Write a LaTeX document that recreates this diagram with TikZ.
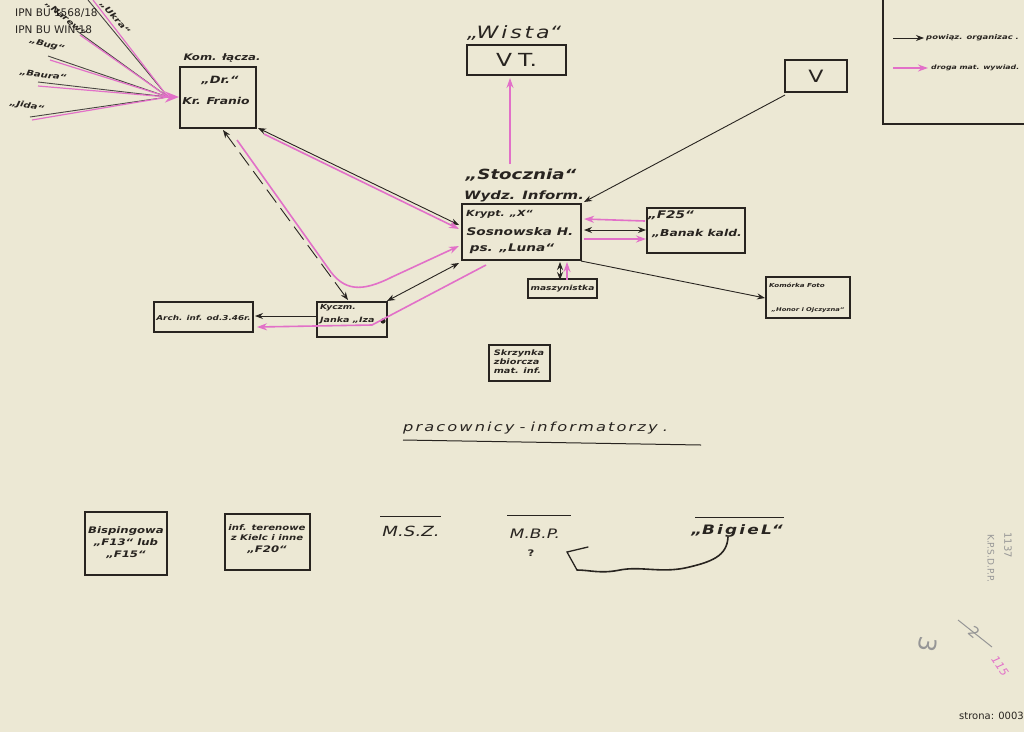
\documentclass[tikz,border=0pt]{standalone}
\usepackage{fontspec}
\setmainfont{DejaVu Sans}
\newfontfamily\hand{DejaVu Sans}[FakeStretch=1.3]
\usetikzlibrary{arrows.meta}
\definecolor{paper}{RGB}{236,232,212}
\definecolor{ink}{RGB}{40,36,32}
\definecolor{pinkink}{RGB}{226,112,200}
\definecolor{pencil}{RGB}{150,150,150}
\begin{document}
\begin{tikzpicture}[x=1pt,y=-1pt,
  box/.style={draw=ink,line width=1.3pt,inner sep=0pt},
  lbl/.style={text=ink,font=\hand\fontsize{9}{11}\selectfont\bfseries\itshape,inner sep=1pt,align=center},
  fanlbl/.style={text=ink,font=\hand\fontsize{7.8}{9}\selectfont\bfseries\itshape,inner sep=0.5pt},
  tiny/.style={text=ink,font=\hand\fontsize{6.5}{8}\selectfont\bfseries\itshape,inner sep=1pt,align=center},
  blk/.style={draw=ink,line width=0.9pt,-{Stealth[length=8pt,width=6pt]}},
  blkb/.style={draw=ink,line width=0.9pt,{Stealth[length=8pt,width=6pt]}-{Stealth[length=8pt,width=6pt]}},
  pnk/.style={draw=pinkink,line width=1.6pt,-{Stealth[length=10pt,width=7pt]}},
  fanl/.style={draw=ink!85,line width=0.9pt},
  fanp/.style={draw=pinkink,line width=1.2pt},
  pencilmark/.style={text=pencil,inner sep=0pt},
  wmark/.style={inner sep=0pt,text=ink,font=\fontsize{10.5}{11}\selectfont},
]
\fill[paper] (0,0) rectangle (1024,732);
\useasboundingbox (0,0) rectangle (1024,732);
\begin{scope}
\clip (0,0) rectangle (1024,732);

% ---- fan of lines into Kom
\coordinate (hub) at (168,97);
\coordinate (u1) at (88,0);
\coordinate (n1) at (77,31);
\coordinate (b1) at (48,56);
\coordinate (ba1) at (38,82);
\coordinate (j1) at (30,117);
\coordinate (u2) at (93,0);
\coordinate (n2) at (80,35);
\coordinate (b2) at (50,60);
\coordinate (ba2) at (38,86);
\coordinate (j2) at (32,120);
\draw[fanl] (u1) -- (hub);
\draw[fanl] (n1) -- (hub);
\draw[fanl] (b1) -- (hub);
\draw[fanl] (ba1) -- (hub);
\draw[fanl] (j1) -- (hub);
\draw[fanp] (u2) -- (hub);
\draw[fanp] (n2) -- (hub);
\draw[fanp] (b2) -- (hub);
\draw[fanp] (ba2) -- (hub);
\draw[fanp] (j2) -- (hub);
\coordinate (hubin) at (179,97);
\draw[pnk,line width=2pt,-{Stealth[length=14pt,width=11pt]}] (hub) -- (hubin);
\node[fanlbl,rotate=-48] (ukra) at (115,18) {„Ukra“};
\node[fanlbl,rotate=-40] (nemo) at (66,19) {„Narew“};
\node[fanlbl,rotate=-15] (bug) at (47,45) {„Bug“};
\node[fanlbl,rotate=-8] (baura) at (43,75) {„Baura“};
\node[fanlbl,rotate=-10] (jida) at (27,106) {„Jida“};

% ---- watermark
\node[wmark,anchor=west] (wm1) at (15,13) {IPN BU 1568/18};
\node[wmark,anchor=west] (wm2) at (15,30) {IPN BU WIN 18};
\node[wmark,anchor=east,font=\fontsize{10}{11}\selectfont] (strona) at (1024,716) {strona: 0003};

% ---- legend
\coordinate (lg1) at (883,0);
\coordinate (lg2) at (883,124);
\coordinate (lg3) at (1024,124);
\draw[ink,line width=1.2pt] (lg1) -- (lg2) -- (lg3);
\coordinate (la1) at (893,38); \coordinate (la2) at (924,38);
\coordinate (lb1) at (893,68); \coordinate (lb2) at (928,68);
\draw[blk,line width=0.8pt] (la1) -- (la2);
\draw[pnk,line width=1.4pt] (lb1) -- (lb2);
\node[tiny,anchor=west] (lgt1) at (925,38) {powiąz. organizac .};
\node[tiny,anchor=west,font=\hand\fontsize{6}{8}\selectfont\bfseries\itshape] (lgt2) at (930,68) {droga mat. wywiad.};

% ---- Kom box
\node[box,minimum width=76pt,minimum height=61pt] (kom) at (218,97.5) {};
\node[lbl] (komlab) at (222,58) {Kom. łącza.};
\node[lbl,font=\hand\fontsize{10}{11}\selectfont\bfseries\itshape] (dr) at (220,80) {„Dr.“};
\node[lbl,font=\hand\fontsize{9.5}{11}\selectfont\bfseries\itshape] (franio) at (216,101) {Kr. Franio};

% ---- Wisla / VT
\node[text=ink,inner sep=1pt,font=\hand\fontsize{17}{18}\selectfont\itshape] (wista) at (514,33) {„W\,i\,s\,t\,a“};
\node[box,minimum width=99pt,minimum height=30pt,font=\hand\fontsize{18}{20}\selectfont,text=ink] (vt) at (516.5,60) {V\,\,T.};

% ---- V
\node[box,minimum width=62pt,minimum height=32pt,font=\hand\fontsize{17}{18}\selectfont,text=ink] (v) at (816,76) {V};

% ---- centre
\node[lbl,font=\hand\fontsize{14}{15}\selectfont\bfseries\itshape] (stocz) at (521,175) {„Stocznia“};
\node[lbl,font=\hand\fontsize{11.5}{13}\selectfont\bfseries\itshape] (wydz) at (524,196) {Wydz. Inform.};
\node[box,minimum width=119pt,minimum height=56pt] (ctr) at (521.5,232) {};
\node[lbl,anchor=west,font=\hand\fontsize{8.5}{10}\selectfont\bfseries\itshape] (krypt) at (465,214) {Krypt. „X“};
\node[lbl,font=\hand\fontsize{10.5}{12}\selectfont\bfseries\itshape] (sosn) at (520,232) {Sosnowska H.};
\node[lbl,font=\hand\fontsize{10.5}{12}\selectfont\bfseries\itshape] (luna) at (512,249) {ps. „Luna“};

% ---- F25
\node[box,minimum width=98pt,minimum height=45pt] (f25) at (696,230.5) {};
\node[lbl,font=\hand\fontsize{10.5}{12}\selectfont\bfseries\itshape] (f25t) at (671,215) {„F25“};
\node[lbl,font=\hand\fontsize{9.5}{12}\selectfont\bfseries\itshape] (banak) at (697,233) {„Banak kald.};

% ---- maszynistka
\node[box,minimum width=69pt,minimum height=19pt] (masz) at (562.5,288.5) {};
\node[tiny,font=\hand\fontsize{7}{8}\selectfont\bfseries\itshape] (maszt) at (562.5,288.5) {maszynistka};

% ---- Komorka Foto
\node[box,minimum width=84pt,minimum height=41pt] (foto) at (808,297.5) {};
\node[tiny,font=\hand\fontsize{5.5}{7}\selectfont\bfseries\itshape] (fotot1) at (797,285) {Komórka Foto};
\node[tiny,font=\hand\fontsize{5.2}{7}\selectfont\bfseries\itshape] (fotot2) at (808,310) {„Honor i Ojczyzna“};

% ---- Skrzynka
\node[box,minimum width=61pt,minimum height=36pt] (skrz) at (519.5,363) {};
\node[tiny,align=left,font=\hand\fontsize{7.5}{9}\selectfont\bfseries\itshape] (skrzt) at (519,362) {Skrzynka\\zbiorcza\\mat. inf.};

% ---- Iza
\node[box,minimum width=70pt,minimum height=35pt] (iza) at (352,319.5) {};
\node[tiny,anchor=west,font=\hand\fontsize{7}{8}\selectfont\bfseries\itshape] (iza1) at (319,308) {Kyczm.};
\node[tiny,anchor=west,font=\hand\fontsize{7.3}{8}\selectfont\bfseries\itshape] (iza2) at (319,320) {Janka „Iza};
\fill[ink] (383,321) circle (2.6);

% ---- Arch
\node[box,minimum width=99pt,minimum height=30pt] (arch) at (203.5,317) {};
\node[tiny,font=\hand\fontsize{6.8}{9}\selectfont\bfseries\itshape] (archt) at (203.5,318) {Arch. inf. od.3.46r.};

% ---- connectors
\coordinate (wsrc) at (510,164);
\coordinate (wdst) at (510,78);
\draw[pnk] (wsrc) -- (wdst);

\coordinate (vsrc) at (785,95);
\coordinate (vdst) at (584,202);
\draw[blk] (vsrc) -- (vdst);

\coordinate (k1) at (258,128);
\coordinate (c1) at (459,225);
\draw[blkb] (k1) -- (c1);
\coordinate (k2) at (264,134);
\coordinate (c2) at (459,229);
\draw[pnk] (k2) -- (c2);

\coordinate (k3) at (237,140);
\coordinate (c3) at (459,246);
\draw[pnk] (k3) -- (328,268) .. controls (344,292) and (362,292) .. (392,277) -- (c3);

\coordinate (k4) at (223,130);
\coordinate (i4) at (348,300);
\draw[blkb,dash pattern=on 16pt off 7pt] (k4) -- (i4);

\coordinate (c5) at (459,263);
\coordinate (i5) at (387,301);
\draw[blkb] (c5) -- (i5);

\coordinate (c6) at (486,265);
\coordinate (i6) at (372,325);
\coordinate (a6) at (257,327);
\draw[pnk] (c6) -- (i6) -- (a6);

\coordinate (i7) at (317,316);
\coordinate (a7) at (255,316);
\draw[blk] (i7) -- (a7);

\coordinate (f1) at (645,221);
\coordinate (c8) at (584,219);
\draw[pnk] (f1) -- (c8);
\coordinate (c9) at (584,230);
\coordinate (f9) at (646,230);
\draw[blkb] (c9) -- (f9);
\coordinate (c10) at (584,239);
\coordinate (f10) at (646,239);
\draw[pnk] (c10) -- (f10);

\coordinate (c11) at (560,262);
\coordinate (m11) at (560,280);
\draw[blkb,line width=0.8pt] (c11) -- (m11);
\coordinate (m12) at (567,280);
\coordinate (c12) at (567,262);
\draw[pnk,line width=1.4pt] (m12) -- (c12);

\coordinate (c13) at (581,261);
\coordinate (f13) at (765,298);
\draw[blk] (c13) -- (f13);

% ---- title
\node[lbl,font=\hand\fontsize{12.5}{14}\selectfont\itshape,anchor=west] (title) at (402,428) {p\,r\,a\,c\,o\,w\,n\,i\,c\,y - i\,n\,f\,o\,r\,m\,a\,t\,o\,r\,z\,y .};
\coordinate (ul1) at (403,440);
\coordinate (ul2) at (701,445);
\draw[ink,line width=1pt] (ul1) -- (ul2);

% ---- bottom row
\node[box,minimum width=82pt,minimum height=63pt] (bisp) at (126,543.5) {};
\node[lbl,font=\hand\fontsize{9}{12}\selectfont\bfseries\itshape] (bispt) at (126,543) {Bispingowa\\„F13“ lub\\„F15“};
\node[box,minimum width=85pt,minimum height=56pt] (infb) at (267.5,542) {};
\node[tiny,font=\hand\fontsize{7.8}{10}\selectfont\bfseries\itshape] (inft) at (267,539) {inf. terenowe\\z Kielc i inne\\[2pt]\fontsize{9}{10}\selectfont „F20“};

\node[text=ink,font=\hand\fontsize{14}{15}\selectfont\itshape] (msz) at (411,531) {M.S.Z.};
\coordinate (msz1) at (380,516); \coordinate (msz2) at (441,516);
\draw[ink,line width=1pt] (msz1) -- (msz2);

\node[text=ink,font=\hand\fontsize{13}{14}\selectfont\itshape] (mbp) at (535,534) {M.B.P.};
\node[text=ink,font=\hand\fontsize{9}{10}\selectfont\bfseries] (mbpq) at (531,553) {?};
\coordinate (mbp1) at (507,515); \coordinate (mbp2) at (571,515);
\draw[ink,line width=1pt] (mbp1) -- (mbp2);

\node[lbl,font=\hand\fontsize{13}{14}\selectfont\bfseries\itshape] (bigiel) at (737,531) {„B\,i\,g\,i\,e\,L“};
\coordinate (bg1) at (695,517); \coordinate (bg2) at (784,517);
\draw[ink,line width=1pt] (bg1) -- (bg2);

\coordinate (bgs) at (728,537);
\coordinate (hk) at (567,552);
\coordinate (hk1) at (577,570);
\coordinate (hk2) at (588,547);
\draw[ink,line width=1.6pt,line cap=round] (bgs) .. controls (727,556) and (712,562) .. (685,568)
  .. controls (660,573) and (640,566) .. (620,570)
  .. controls (600,574) and (590,570) .. (hk1);
\draw[ink,line width=1.3pt,line cap=round] (hk1) -- (hk) -- (hk2);

% ---- archival margin marks
\node[pencilmark,rotate=-90,font=\fontsize{10}{11}\selectfont] (m1137) at (1008,545) {1137};
\node[pencilmark,rotate=-90,font=\fontsize{9}{10}\selectfont] (mkps) at (991,558) {K.P.S.D.P.P.};
\node[pencilmark,rotate=-100,font=\fontsize{24}{26}\selectfont] (m3) at (928,645) {3};
\node[pencilmark,rotate=-40,font=\fontsize{15}{16}\selectfont] (m2) at (974,632) {2};
\coordinate (st1) at (958,620); \coordinate (st2) at (992,647);
\draw[pencil,line width=1pt] (st1) -- (st2);
\node[text=pinkink,rotate=-55,font=\fontsize{11}{12}\selectfont\itshape,inner sep=0pt] (m115) at (1000,666) {115};
\end{scope}
\end{tikzpicture}
\end{document}
